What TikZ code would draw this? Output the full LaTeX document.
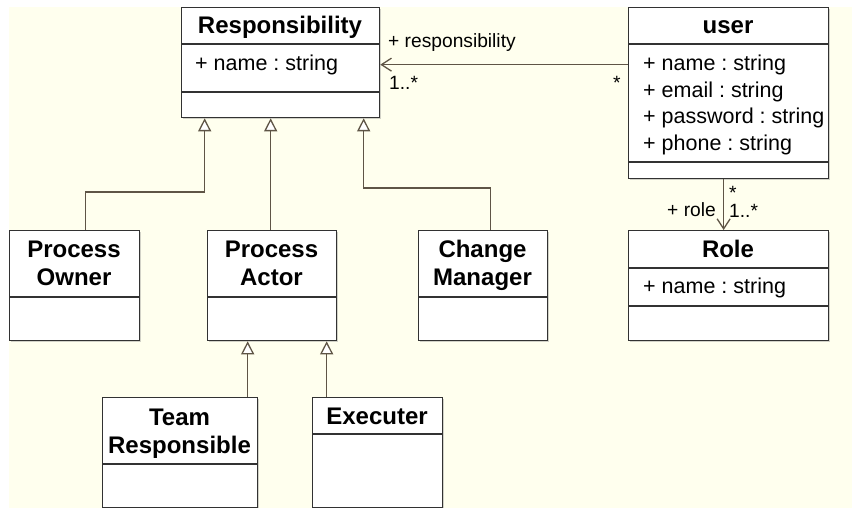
\documentclass[tikz,border=0pt]{standalone}
\usepackage{fontspec}
\setmainfont{Liberation Sans}
\usetikzlibrary{arrows.meta,shadows}
\frenchspacing

\definecolor{cream}{RGB}{255,255,238}
\definecolor{boxline}{RGB}{50,50,50}
\definecolor{linkline}{RGB}{95,85,70}

\tikzset{
	cls/.style={draw=boxline,line width=1.3pt,fill=white,anchor=north west,inner sep=0pt,
		drop shadow={shadow xshift=1.5pt,shadow yshift=-1.5pt,opacity=0.35}},
	ttl/.style={font=\fontsize{24}{28}\selectfont\bfseries,align=center,inner sep=0pt,anchor=base},
	attr/.style={font=\fontsize{21.5}{26.5}\selectfont,inner sep=0pt,anchor=base west},
	lbl/.style={font=\fontsize{19.2}{22}\selectfont,inner sep=0pt},
	sep/.style={draw=boxline,line width=1.3pt},
	gen/.style={draw=linkline,line width=1.3pt,-{Triangle[fill=white,length=13pt,width=13pt]}},
	assoc/.style={draw=linkline,line width=1.3pt,-{Straight Barb[length=10pt,width=13pt]}},
}

\begin{document}
\begin{tikzpicture}[x=1pt,y=-1pt]
	\useasboundingbox (0,0) rectangle (852,508);
	\fill[cream] (9,7) rectangle (852,508);

	\begin{scope}[every node/.style={cls}]
	\node[minimum width=198,minimum height=110] (resp) at (181,7) {};
	\node[minimum width=200,minimum height=171] (user) at (628,7) {};
	\node[minimum width=200,minimum height=110] (role) at (628,230) {};
	\node[minimum width=130,minimum height=110] (owner) at (9,230) {};
	\node[minimum width=129,minimum height=110] (actor) at (207,230) {};
	\node[minimum width=129,minimum height=110] (manager) at (418,230) {};
	\node[minimum width=155,minimum height=110] (team) at (102,397) {};
	\node[minimum width=130,minimum height=110] (executer) at (312,397) {};
	\end{scope}

	\draw[sep] (resp.west |- 0,44) -- (resp.east |- 0,44);
	\draw[sep] (resp.west |- 0,92) -- (resp.east |- 0,92);
	\draw[sep] (user.west |- 0,44) -- (user.east |- 0,44);
	\draw[sep] (user.west |- 0,162) -- (user.east |- 0,162);
	\draw[sep] (role.west |- 0,268) -- (role.east |- 0,268);
	\draw[sep] (role.west |- 0,306) -- (role.east |- 0,306);
	\draw[sep] (owner.west |- 0,297) -- (owner.east |- 0,297);
	\draw[sep] (actor.west |- 0,297) -- (actor.east |- 0,297);
	\draw[sep] (manager.west |- 0,297) -- (manager.east |- 0,297);
	\draw[sep] (team.west |- 0,464) -- (team.east |- 0,464);
	\draw[sep] (executer.west |- 0,434) -- (executer.east |- 0,434);

	\node[ttl] (resp-t) at (280,34) {Responsibility};
	\node[ttl] (user-t) at (728,34) {user};
	\node[ttl] (role-t) at (728,257) {Role};
	\node[ttl] (owner-t) at (74,285) {Process\\Owner};
	\node[ttl] (actor-t) at (271.5,285) {Process\\Actor};
	\node[ttl] (manager-t) at (482.5,285) {Change\\Manager};
	\node[ttl] (team-t) at (179.5,453) {Team\\Responsible};
	\node[ttl] (executer-t) at (377,424) {Executer};

	\node[attr] (resp-a) at (195,71) {+ name : string};
	\node[attr] (user-a1) at (643,71) {+ name : string};
	\node[attr] (user-a2) at (643,97.5) {+ email : string};
	\node[attr] (user-a3) at (643,124) {+ password : string};
	\node[attr] (user-a4) at (643,150.5) {+ phone : string};
	\node[attr] (role-a) at (643,293) {+ name : string};

	\draw[gen] ([xshift=11pt]owner.north) -- ++(0,-38) -| ([xshift=-76pt]resp.south);
	\draw[gen] ([xshift=-1.5pt]actor.north) -- ([xshift=-10pt]resp.south);
	\draw[gen] ([xshift=7.5pt]manager.north) -- ++(0,-42) -| ([xshift=83pt]resp.south);
	\draw[gen] ([xshift=67.5pt]team.north) -- ([xshift=-24.5pt]actor.south);
	\draw[gen] ([xshift=-51pt]executer.north) -- ([xshift=54.5pt]actor.south);
	\draw[assoc] ([yshift=28.5pt]user.west) -- ([yshift=-2pt]resp.east);
	\draw[assoc] ([xshift=-5pt]user.south) -- ([xshift=-5pt]role.north);

	\node[lbl,anchor=base west] (resp-name) at (388,48) {+ responsibility};
	\node[lbl,anchor=base west] (resp-mult) at (389,90) {1..*};
	\node[lbl,anchor=base west] (user-mult) at (613,90) {*};
	\node[lbl,anchor=base east] (role-name) at (716,216) {+ role};
	\node[lbl,anchor=base west] (user-rmult) at (729,200) {*};
	\node[lbl,anchor=base west] (role-mult) at (729,218) {1..*};
\end{tikzpicture}
\end{document}
